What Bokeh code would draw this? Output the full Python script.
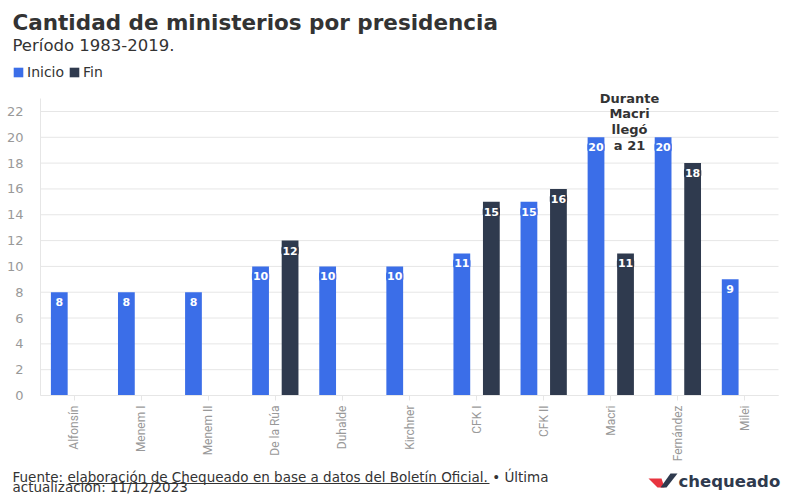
import math
from bokeh.plotting import figure
from bokeh.models import (ColumnDataSource, FixedTicker, Legend, LegendItem, Range1d)
from bokeh.transform import dodge
from bokeh.core.properties import value
from bokeh.embed import file_html
from bokeh.resources import INLINE

# ---- data ----
presidencias = ["Alfonsín", "Menem I", "Menem II", "De la Rúa", "Duhalde", "Kirchner",
                "CFK I", "CFK II", "Macri", "Fernández", "Milei"]
inicio = [8, 8, 8, 10, 10, 10, 11, 15, 20, 20, 9]
fin = [None, None, None, 12, None, None, 15, 16, 11, 18, None]
y_ticks = list(range(0, 23, 2))
series_names = ["Inicio", "Fin"]

TITLE = "Cantidad de ministerios por presidencia"
SUBTITLE = "Período 1983-2019."
NOTE = "Durante\nMacri\nllegó\na 21"
NOTE_AT = "Macri"
FOOT_1 = "Fuente: elaboración de Chequeado en base a datos del Boletín Oficial. • Última"
FOOT_2 = "actualización: 11/12/2023"
LOGO = "chequeado"

BLUE = "#3b6ee8"
DARK = "#2f3a4e"
RED = "#e8343f"
TXT = "#333333"
GRID = "#e6e6e6"
AXIS_TXT = "#999999"
FONT = "DejaVu Sans"

# ---- canvas geometry (the frame fills the whole canvas; axes are pinned inside) ----
W, H = 785, 497
PLOT_L, PLOT_R, PLOT_B = 40, 778, 395
n = len(presidencias)
cat_w = (PLOT_R - PLOT_L) / n
px_per_unit = 12.91

def dx(px):  # canvas pixel -> data x
    return (px - PLOT_L) / cat_w

def dy(py):  # canvas pixel -> data y
    return (PLOT_B - py) / px_per_unit

p = figure(width=W, height=H, x_range=Range1d(dx(0), dx(W)), y_range=Range1d(dy(H), dy(0)),
           output_backend="svg", toolbar_location=None, min_border=0)
p.title.visible = False
p.outline_line_color = None
p.background_fill_color = "white"
p.border_fill_color = "white"

pos = [i + 0.5 for i in range(n)]
src_i = ColumnDataSource(dict(x=pos, v=inicio, t=[str(v) for v in inicio]))
fpos = [x for x, v in zip(pos, fin) if v is not None]
fv = [v for v in fin if v is not None]
src_f = ColumnDataSource(dict(x=fpos, v=fv, t=[str(v) for v in fv]))

# grid lines limited to the plotting area
p.segment(x0=[0] * len(y_ticks), x1=[n] * len(y_ticks), y0=y_ticks, y1=y_ticks,
          line_color=GRID, line_width=1)

r_i = p.vbar(x=dodge("x", -0.22), top="v", width=0.25, source=src_i,
             fill_color=BLUE, line_color=None)
r_f = p.vbar(x=dodge("x", 0.22), top="v", width=0.25, source=src_f,
             fill_color=DARK, line_color=None)

for src, off, col in ((src_i, -0.22, BLUE), (src_f, 0.22, DARK)):
    p.text(x=dodge("x", off), y="v", text="t", source=src,
           text_align="center", text_baseline="middle", y_offset=10,
           text_color="white", text_font=value(FONT), text_font_style="bold",
           text_font_size="11px", background_fill_color=col, padding=1,
           border_radius=3)

# annotation next to Macri
note_x = presidencias.index(NOTE_AT) + 0.5 + 0.28
p.text(x=[note_x], y=[18.8], text=[NOTE], text_align="center", text_baseline="bottom",
       text_color=TXT, text_font=value(FONT), text_font_style="bold",
       text_font_size="13px", text_line_height=1.05)

# ---- axes pinned at data locations ----
p.xgrid.visible = False
p.ygrid.visible = False

ya = p.yaxis[0]
ya.fixed_location = 0
ya.bounds = (0, 23)
ya.ticker = FixedTicker(ticks=y_ticks)
ya.major_tick_line_color = None
ya.minor_tick_line_color = None
ya.axis_line_color = GRID
ya.major_label_text_color = AXIS_TXT
ya.major_label_text_font = FONT
ya.major_label_text_font_size = "13px"
ya.major_label_standoff = 11

xa = p.xaxis[0]
xa.fixed_location = 0
xa.bounds = (0, n)
xa.ticker = FixedTicker(ticks=pos)
xa.major_label_overrides = {x: name for x, name in zip(pos, presidencias)}
xa.axis_line_color = GRID
xa.major_tick_line_color = GRID
xa.minor_tick_line_color = None
xa.major_tick_out = 5
xa.major_tick_in = 0
xa.major_label_orientation = math.pi / 2
xa.major_label_text_color = AXIS_TXT
xa.major_label_text_font = "Roboto"
xa.major_label_text_font_size = "12px"
xa.major_label_standoff = 5

# ---- header ----
p.text(x=[dx(12)], y=[dy(22)], text=[TITLE], text_font=value(FONT), text_font_style="bold",
       text_font_size="21.5px", text_color=TXT, text_baseline="alphabetic")
p.text(x=[dx(12)], y=[dy(45)], text=[SUBTITLE], text_font=value(FONT),
       text_font_size="16.5px", text_color=TXT, text_baseline="alphabetic")

leg = Legend(items=[LegendItem(label=series_names[0], renderers=[r_i]),
                    LegendItem(label=series_names[1], renderers=[r_f])],
             orientation="horizontal", location=(12, H - 80),
             glyph_width=12, glyph_height=12, label_text_font=FONT,
             label_text_font_size="14px", label_text_color=TXT,
             label_standoff=3, spacing=4, padding=0, margin=0,
             border_line_color=None, background_fill_alpha=0, label_height=12)
p.add_layout(leg)

# ---- footer ----
p.text(x=[dx(12)], y=[dy(476)], text=[FOOT_1], text_font=value(FONT),
       text_font_size="13.5px", text_color=TXT, text_baseline="alphabetic")
p.text(x=[dx(12)], y=[dy(486)], text=[FOOT_2], text_font=value(FONT),
       text_font_size="13.5px", text_color=TXT, text_baseline="alphabetic")
p.segment(x0=[dx(68)], x1=[dx(489)], y0=[dy(483)], y1=[dy(483)], line_color=TXT,
          line_width=1)

# ---- logo ----
p.patch(x=[dx(648), dx(661), dx(664), dx(657)], y=[dy(478), dy(478), dy(487), dy(487)],
        fill_color=RED, line_color=None)
p.patch(x=[dx(660), dx(666), dx(677), dx(670)], y=[dy(487), dy(487), dy(473), dy(473)],
        fill_color=DARK, line_color=None)
p.text(x=[dx(678)], y=[dy(481)], text=[LOGO], text_font=value(FONT), text_font_style="bold",
       text_font_size="16.5px", text_color=DARK, text_baseline="alphabetic")

open("out.html", "w").write(file_html(p, INLINE))
